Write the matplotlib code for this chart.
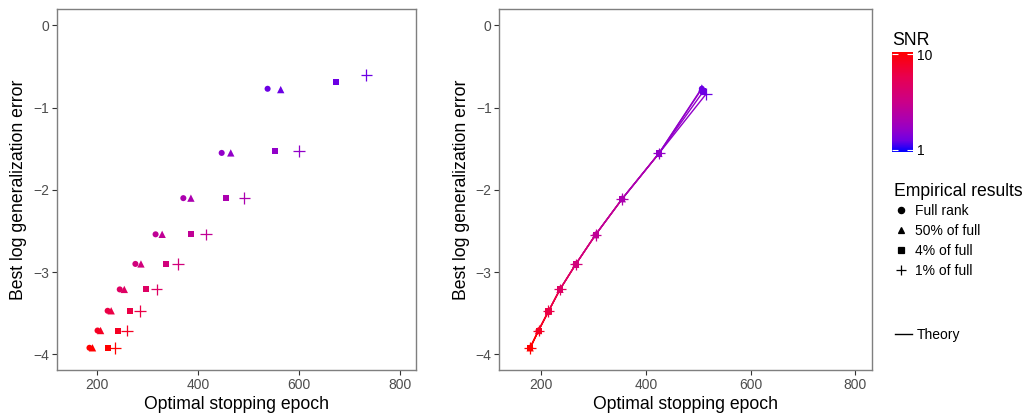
import numpy as np
import matplotlib
matplotlib.use("Agg")
import matplotlib.pyplot as plt
from matplotlib.colors import LinearSegmentedColormap, Normalize
from matplotlib.cm import ScalarMappable
from matplotlib.lines import Line2D

plt.rcParams["font.family"] = ["Liberation Sans", "DejaVu Sans"]

# ---- data ----
snr = np.array([2, 3, 4, 5, 6, 7, 8, 9, 10])

emp_full_epoch = [538, 447, 371, 316, 276, 245, 221, 201, 185]
emp_full_err   = [-0.77, -1.55, -2.10, -2.54, -2.90, -3.21, -3.47, -3.71, -3.92]
emp_half_epoch = [564, 465, 386, 329, 287, 254, 228, 207, 191]
emp_half_err   = [-0.78, -1.55, -2.10, -2.54, -2.90, -3.21, -3.47, -3.71, -3.92]
emp_4pc_epoch  = [674, 553, 456, 386, 336, 297, 266, 242, 221]
emp_4pc_err    = [-0.69, -1.53, -2.10, -2.54, -2.90, -3.21, -3.47, -3.71, -3.92]
emp_1pc_epoch  = [734, 600, 492, 416, 360, 318, 285, 259, 236]
emp_1pc_err    = [-0.60, -1.53, -2.10, -2.54, -2.90, -3.21, -3.47, -3.71, -3.92]

th_full_epoch = [507, 425, 355, 304, 266, 236, 214, 195, 179]
th_full_err   = [-0.77, -1.556, -2.107, -2.545, -2.905, -3.209, -3.476, -3.71, -3.92]
th_half_epoch = [507, 425, 355, 304, 266, 236, 214, 195, 179]
th_half_err   = [-0.76, -1.556, -2.107, -2.545, -2.905, -3.209, -3.476, -3.71, -3.92]
th_4pc_epoch  = [510, 425, 355, 304, 266, 236, 214, 195, 179]
th_4pc_err    = [-0.80, -1.556, -2.107, -2.545, -2.905, -3.209, -3.476, -3.71, -3.92]
th_1pc_epoch  = [515, 425, 355, 304, 266, 236, 214, 195, 179]
th_1pc_err    = [-0.835, -1.556, -2.107, -2.545, -2.905, -3.209, -3.476, -3.71, -3.92]

rank_labels = ["Full rank", "50% of full", "4% of full", "1% of full"]

# --- style ---
markers = {"Full rank": ("o", 19), "50% of full": ("^", 28),
           "4% of full": ("s", 19), "1% of full": ("+", 70)}
cmap = LinearSegmentedColormap.from_list("snr", [
    (0.0, "#0000FF"), (0.111, "#6D00E4"), (0.2, "#8D00CE"), (0.301, "#A600B6"),
    (0.5, "#CA0088"), (0.75, "#E80050"), (1.0, "#FF0000")])
norm = Normalize(vmin=1, vmax=10)


def style_axis(ax):
    ax.set_xlim(120, 832)
    ax.set_ylim(-4.19, 0.2)
    ax.set_xticks([200, 400, 600, 800])
    ax.set_yticks([0, -1, -2, -3, -4])
    for s in ax.spines.values():
        s.set_color("#7F7F7F")
        s.set_linewidth(1.0)
    ax.tick_params(length=3.5, width=0.8, color="#333333", labelcolor="#4D4D4D",
                   labelsize=10, pad=2)
    ax.set_xlabel("Optimal stopping epoch", fontsize=12.7, labelpad=3)
    ax.set_ylabel("Best log generalization error", fontsize=12.7, labelpad=4)


fig = plt.figure(figsize=(10.25, 4.17), dpi=100)
ax1 = fig.add_axes([0.0553, 0.1127, 0.3505, 0.8657])
ax2 = fig.add_axes([0.4871, 0.1127, 0.3636, 0.8657])

emp = [(emp_full_epoch, emp_full_err), (emp_half_epoch, emp_half_err),
       (emp_4pc_epoch, emp_4pc_err), (emp_1pc_epoch, emp_1pc_err)]
th = [(th_full_epoch, th_full_err), (th_half_epoch, th_half_err),
      (th_4pc_epoch, th_4pc_err), (th_1pc_epoch, th_1pc_err)]

# --- empirical ---
for lab, (x, y) in zip(rank_labels, emp):
    m, s = markers[lab]
    ax1.scatter(x, y, c=snr, cmap=cmap, norm=norm, marker=m, s=s,
                linewidths=0.9 if m == "+" else 0)

# --- theory: segments coloured by the point with higher SNR ---
for lab, (x, y) in zip(rank_labels, th):
    for i in range(len(x) - 1, 0, -1):
        ax2.plot([x[i], x[i - 1]], [y[i], y[i - 1]], color=cmap(norm(snr[i])),
                 lw=1.0, solid_capstyle="butt")
for lab, (x, y) in zip(rank_labels, th):
    m, s = markers[lab]
    ax2.scatter(x, y, c=snr, cmap=cmap, norm=norm, marker=m, s=s,
                linewidths=0.9 if m == "+" else 0, zorder=3)

style_axis(ax1)
style_axis(ax2)

# --- SNR colourbar (bar runs a little past 1 and 10, like ggplot) ---
cax = fig.add_axes([892 / 1025, (417 - 152) / 417, 21 / 1025, 100 / 417])
bar_norm = Normalize(vmin=0.81, vmax=10.19)
cb = fig.colorbar(ScalarMappable(norm=bar_norm, cmap=cmap), cax=cax, ticks=[1, 10])
cb.outline.set_visible(False)
cax.tick_params(direction="in", length=4, width=0.8, color="white",
                labelsize=10, pad=3, left=True)
fig.text(892 / 1025, (417 - 45) / 417, "SNR", fontsize=12.7, ha="left", va="baseline")

# --- legends ---
handles = [Line2D([], [], ls="", marker=markers[l][0], color="black",
                  markersize=4.5 if l != "1% of full" else 7, mew=0.9)
           for l in rank_labels]
leg1 = fig.legend(handles, rank_labels, title="Empirical results",
                  loc="upper left", bbox_to_anchor=(887 / 1025, (417 - 176) / 417),
                  frameon=False, fontsize=10, title_fontsize=12.7, borderpad=0,
                  handlelength=1.0, handletextpad=0.5, labelspacing=0.42,
                  alignment="left")
leg1._legend_box.sep = 3
leg2 = fig.legend([Line2D([], [], color="black", lw=1.0)], ["Theory"],
                  loc="center left", bbox_to_anchor=(888 / 1025, (417 - 335) / 417),
                  frameon=False, fontsize=10, borderpad=0,
                  handlelength=1.25, handletextpad=0.3)

fig.savefig("out.png", dpi=100)
